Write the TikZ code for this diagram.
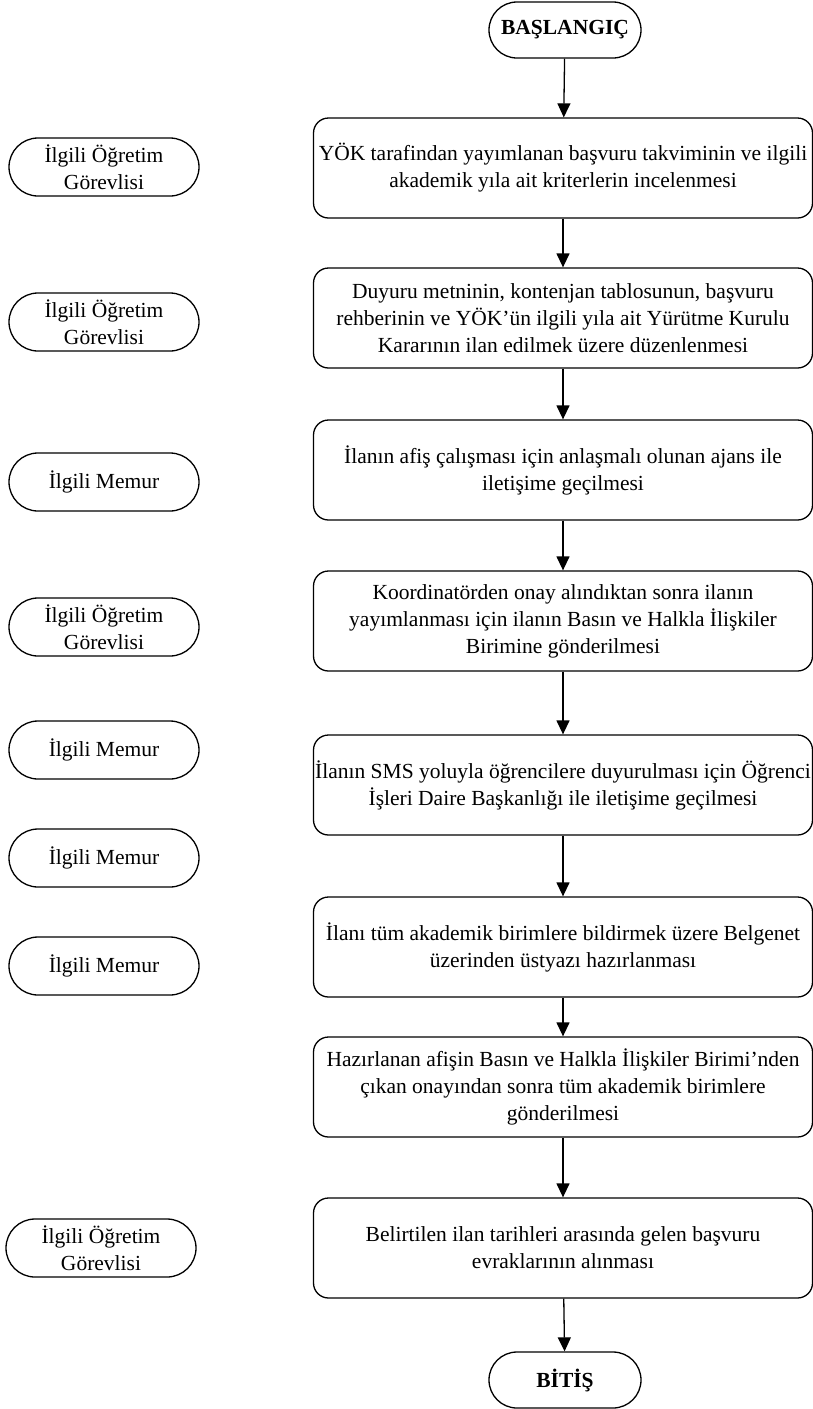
\documentclass[tikz,border=0pt]{standalone}
\usepackage{fontspec}
\setmainfont{Liberation Serif}
\usetikzlibrary{arrows.meta}
\begin{document}
\begin{tikzpicture}[x=1pt,y=-1pt,
  line width=1.3pt,
  every node/.style={font=\fontsize{21.5}{27}\selectfont},
  term/.style={draw, rectangle, rounded corners=28pt, minimum width=152pt, minimum height=56pt, inner sep=0pt, font=\fontsize{21.5}{27}\selectfont\bfseries},
  proc/.style={draw, rectangle, rounded corners=15pt, minimum width=499pt, minimum height=100pt, inner sep=0pt, align=center},
  actor/.style={draw, rectangle, rounded corners=29pt, minimum width=190pt, minimum height=58pt, inner sep=0pt, align=center},
  flow/.style={-{Triangle[width=13pt,length=14pt]}}
]
\useasboundingbox (0,0) rectangle (813,1409);

\node[term] (start) at (565,30) {BAŞLANGIÇ};
\node[proc] (p1) at (563,168) {YÖK tarafindan yayımlanan başvuru takviminin ve ilgili\\akademik yıla ait kriterlerin incelenmesi};
\node[proc] (p2) at (563,318) {Duyuru metninin, kontenjan tablosunun, başvuru\\rehberinin ve YÖK’ün ilgili yıla ait Yürütme Kurulu\\Kararının ilan edilmek üzere düzenlenmesi};
\node[proc] (p3) at (563,470) {İlanın afiş çalışması için anlaşmalı olunan ajans ile\\iletişime geçilmesi};
\node[proc] (p4) at (563,621) {Koordinatörden onay alındıktan sonra ilanın\\yayımlanması için ilanın Basın ve Halkla İlişkiler\\Birimine gönderilmesi};
\node[proc] (p5) at (563,785) {İlanın SMS yoluyla öğrencilere duyurulması için Öğrenci\\İşleri Daire Başkanlığı ile iletişime geçilmesi};
\node[proc] (p6) at (563,947) {İlanı tüm akademik birimlere bildirmek üzere Belgenet\\üzerinden üstyazı hazırlanması};
\node[proc] (p7) at (563,1087) {Hazırlanan afişin Basın ve Halkla İlişkiler Birimi’nden\\çıkan onayından sonra tüm akademik birimlere\\gönderilmesi};
\node[proc] (p8) at (563,1248) {Belirtilen ilan tarihleri arasında gelen başvuru\\evraklarının alınması};
\node[term] (end) at (565,1380) {BİTİŞ};

\node[actor] (a1) at (104,167) {İlgili Öğretim\\Görevlisi};
\node[actor] (a2) at (104,322) {İlgili Öğretim\\Görevlisi};
\node[actor] (a3) at (104,482) {İlgili Memur};
\node[actor] (a4) at (104,627) {İlgili Öğretim\\Görevlisi};
\node[actor] (a5) at (104,750) {İlgili Memur};
\node[actor] (a6) at (104,858) {İlgili Memur};
\node[actor] (a7) at (104,966) {İlgili Memur};
\node[actor] (a8) at (101,1248) {İlgili Öğretim\\Görevlisi};

\draw[flow] (start) -- (p1);
\draw[flow] (p1) -- (p2);
\draw[flow] (p2) -- (p3);
\draw[flow] (p3) -- (p4);
\draw[flow] (p4) -- (p5);
\draw[flow] (p5) -- (p6);
\draw[flow] (p6) -- (p7);
\draw[flow] (p7) -- (p8);
\draw[flow] (p8) -- (end);
\end{tikzpicture}
\end{document}
